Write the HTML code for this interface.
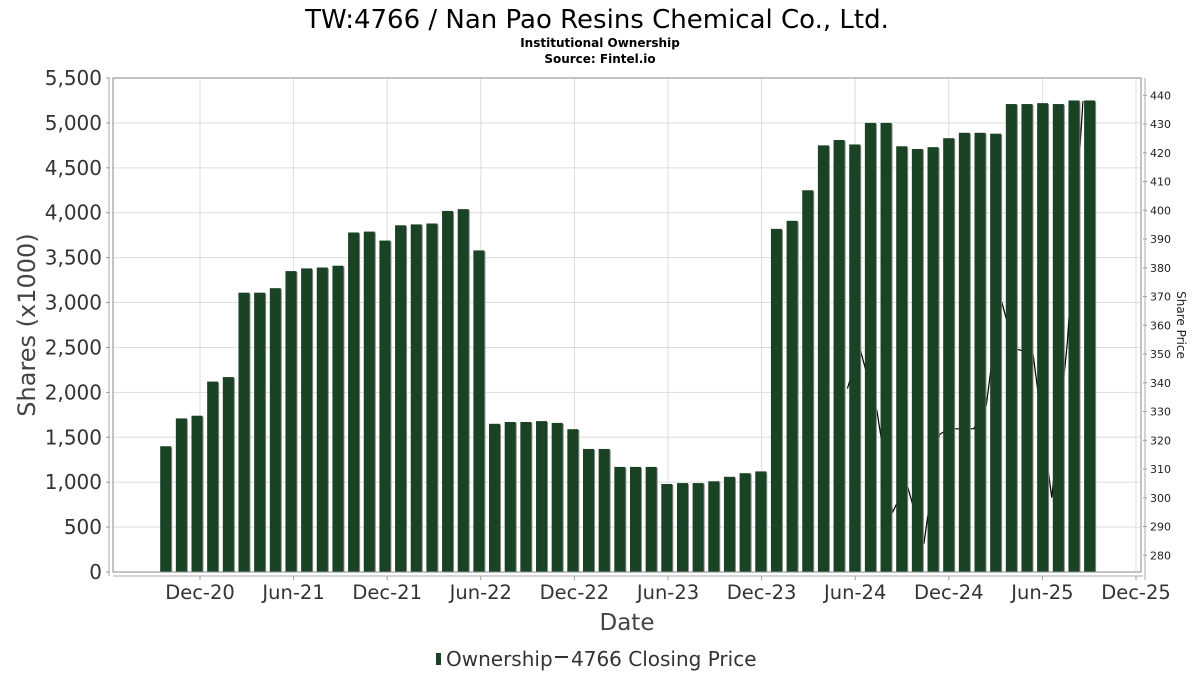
<!DOCTYPE html>
<html><head><meta charset="utf-8"><style>
body{margin:0;background:#fff;}
svg{display:block;font-family:"DejaVu Sans","Liberation Sans",sans-serif;}
</style></head><body>
<svg id="chart" width="1200" height="675" viewBox="0 0 1200 675">
<text x="597" y="28" text-anchor="middle" font-size="26" fill="#000">TW:4766 / Nan Pao Resins Chemical Co., Ltd.</text>
<text x="600" y="47" text-anchor="middle" font-size="12" font-weight="bold" fill="#000">Institutional Ownership</text>
<text x="600" y="63" text-anchor="middle" font-size="12" font-weight="bold" fill="#000">Source: Fintel.io</text>
<g id="grid"></g>
<g id="line"></g>
<g id="bars"></g>
<g id="axes"></g>
<text transform="translate(35,325) rotate(-90)" text-anchor="middle" font-size="24" fill="#444">Shares (x1000)</text>
<text transform="translate(1177,325) rotate(90)" text-anchor="middle" font-size="12" fill="#222">Share Price</text>
<text x="627" y="630" text-anchor="middle" font-size="23" fill="#444">Date</text>
<g>
<rect x="436" y="653" width="5" height="12" fill="#1a4224"/>
<text x="446" y="666" font-size="20" fill="#333">Ownership</text>
<line x1="555" y1="657" x2="568" y2="657" stroke="#333" stroke-width="2"/>
<text x="571" y="666" font-size="20" fill="#333">4766 Closing Price</text>
</g>
</svg>
<script>
const shares=[1400,1710,1740,2120,2170,3110,3110,3160,3350,3380,3390,3410,3780,3790,3690,3860,3870,3880,4020,4040,3580,
1650,1670,1670,1680,1660,1590,1370,1370,1170,1170,1170,980,990,990,1010,1060,1100,1120,
3820,3910,4250,4750,4810,4760,5000,5000,4740,4710,4730,4830,4890,4890,4880,5210,5210,5220,5210,5250,5250];
const priceMonths=[41.5,42.3,43.4,44.4,45.3,46.4,47.4,48.0,49.6,50.4,51.3,52.2,53.4,54.6,55.6,56.6];
const prices=[338,352,330,295,305,284,322,324,324,332,370,352,350,300,354,438];
const yTicks=[0,500,1000,1500,2000,2500,3000,3500,4000,4500,5000,5500];
const y2Ticks=[280,290,300,310,320,330,340,350,360,370,380,390,400,410,420,430,440];
const xTickLabels=["Dec-20","Jun-21","Dec-21","Jun-22","Dec-22","Jun-23","Dec-23","Jun-24","Dec-24","Jun-25","Dec-25"];
const firstBarMonth=-2.2;
const NS="http://www.w3.org/2000/svg";
const L=113,R=1141,T=78,B=572;
const y=v=>B-(v/5500)*(B-T);
const y2=v=>555.3-(v-280)*(555.3-95.3)/160;
const x=m=>200+m*15.6;
function mk(tag,attrs,parent,txt){const e=document.createElementNS(NS,tag);for(const k in attrs)e.setAttribute(k,attrs[k]);if(txt!==undefined)e.textContent=txt;parent.appendChild(e);return e;}
const grid=document.getElementById('grid'),axes=document.getElementById('axes'),bars=document.getElementById('bars'),line=document.getElementById('line');
mk('rect',{x:L,y:T,width:R-L,height:B-T,fill:'#fff',stroke:'none'},grid);
yTicks.forEach(v=>{
 const g=mk('line',{x1:L,x2:R,y1:y(v),y2:y(v),stroke:'#ddd','stroke-width':1},grid);
 
 const t=mk('text',{x:102,y:y(v)+7,'text-anchor':'end','font-size':20,fill:'#333'},axes,v.toLocaleString('en-US'));
 
 mk('line',{x1:106,x2:110,y1:y(v),y2:y(v),stroke:'#999'},axes);
});
xTickLabels.forEach((lab,i)=>{
 const xx=x(i*6);
 const g=mk('line',{x1:xx,x2:xx,y1:T,y2:B,stroke:'#ddd','stroke-width':1},grid);
 
 mk('line',{x1:xx,x2:xx,y1:576,y2:580,stroke:'#999'},axes);
 const t=mk('text',{x:xx,y:599,'text-anchor':'middle','font-size':19.5,fill:'#333'},axes,lab);
 
});
y2Ticks.forEach(v=>{
 mk('line',{x1:1143,x2:1147,y1:y2(v),y2:y2(v),stroke:'#999'},axes);
 const t=mk('text',{x:1150,y:y2(v)+4,'font-size':11,fill:'#222'},axes,v);
 
});
mk('rect',{x:L,y:T,width:R-L,height:B-T,fill:'none',stroke:'#888','stroke-width':1},axes);
mk('line',{x1:109,x2:109,y1:T,y2:576,stroke:'#aaa'},axes);
mk('line',{x1:L,x2:1143,y1:576,y2:576,stroke:'#aaa'},axes);
mk('line',{x1:1145,x2:1145,y1:T,y2:580,stroke:'#aaa'},axes);
const pts=prices.map((p,i)=>x(priceMonths[i])+','+y2(p)).join(' ');
const pl=mk('polyline',{points:pts,fill:'none',stroke:'#000','stroke-width':1.2},line);

shares.forEach((v,i)=>{
 const cx=x(firstBarMonth+i*(15.66/15.6));
 mk('rect',{x:cx-4.5,y:y(v)+1,width:11,height:B-y(v)-1,fill:'#888'},bars);
 const r=mk('rect',{x:cx-5.5,y:y(v),width:11,height:B-y(v),fill:'#1a4224'},bars);
 
});
</script>
</body></html>
